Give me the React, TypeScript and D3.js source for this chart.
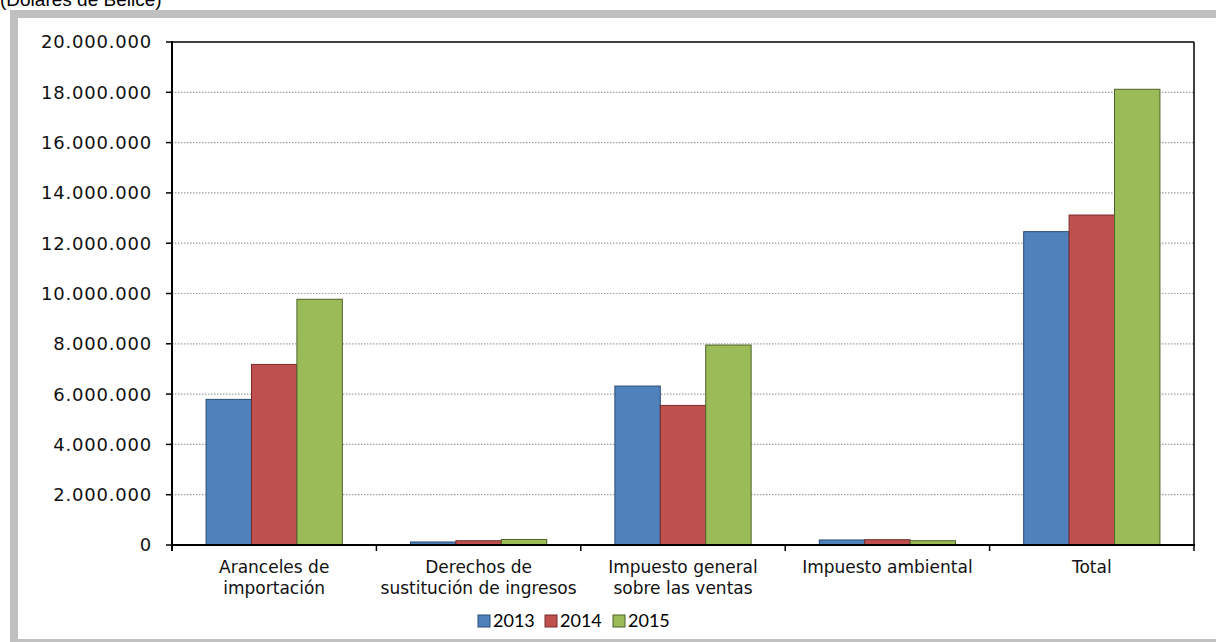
import React from "react";
import * as d3 from "d3";

const categories = [
  "Aranceles de importación",
  "Derechos de sustitución de ingresos",
  "Impuesto general sobre las ventas",
  "Impuesto ambiental",
  "Total",
];
const categoryLines = [
  ["Aranceles de", "importación"],
  ["Derechos de", "sustitución de ingresos"],
  ["Impuesto general", "sobre las ventas"],
  ["Impuesto ambiental"],
  ["Total"],
];
const years = ["2013", "2014", "2015"];
const values2013 = [5790000, 120000, 6320000, 200000, 12460000];
const values2014 = [7180000, 170000, 5550000, 210000, 13120000];
const values2015 = [9770000, 220000, 7950000, 170000, 18120000];
const yTicks = [0, 2000000, 4000000, 6000000, 8000000, 10000000, 12000000, 14000000, 16000000, 18000000, 20000000];
const title = "(Dólares de Belice)";

const fills = ["#4F81BD", "#C0504D", "#9BBB59"];
const strokes = ["#2C4D75", "#772C2A", "#4F6228"];

export default function App() {
  const W = 1216, H = 642;
  const left = 172, right = 1194, top = 42, bottom = 545;
  const series = [values2013, values2014, values2015];
  const x0 = d3.scaleBand().domain(categories).range([left, right]).padding(0);
  const x1 = d3.scaleBand().domain(years).range([0, x0.bandwidth()]).paddingInner(0).paddingOuter(0.75);
  const y = d3.scaleLinear().domain([0, 20000000]).range([bottom, top]);
  const fmt = (v: number) => d3.format(",")(v).replace(/,/g, ".");
  const font = "'DejaVu Sans', Verdana, sans-serif";
  const boundaries = categories.map((c) => x0(c)!).concat([right]);

  const legendX = [478, 545, 613];

  return (
    <svg width={W} height={H} style={{ position: "absolute", left: 0, top: 0 }}>
      <rect x={0} y={0} width={W} height={H} fill="#fff" />
      <text x={0} y={6} fontFamily="'Liberation Sans', Arial, sans-serif" fontSize={19} fill="#000">{title}</text>
      <rect x={10} y={10} width={W - 10} height={632} fill="#C0C0C0" />
      <rect x={18} y={18} width={W - 18} height={621} fill="#fff" />

      {yTicks.filter((t) => t > 0 && t < 20000000).map((t) => (
        <line key={"g" + t} x1={left} x2={right} y1={y(t)} y2={y(t)} stroke="#A0A0A0" strokeWidth={1.2} strokeDasharray="1.5 1.5" />
      ))}

      {categories.map((c, ci) => (
        <g key={c}>
          {years.map((yr, si) => {
            const v = series[si][ci];
            const bx = x0(c)! + x1(yr)!;
            return (
              <rect key={yr} x={bx} y={y(v)} width={x1.bandwidth()} height={bottom - y(v)}
                fill={fills[si]} stroke={strokes[si]} strokeWidth={1} />
            );
          })}
        </g>
      ))}

      <line x1={left} x2={right} y1={top} y2={top} stroke="#000" strokeWidth={1.5} />
      <line x1={right} x2={right} y1={top} y2={bottom} stroke="#000" strokeWidth={1.5} />
      <line x1={left} x2={left} y1={top - 1} y2={bottom + 6} stroke="#000" strokeWidth={2} />
      <line x1={left} x2={right + 1} y1={bottom} y2={bottom} stroke="#000" strokeWidth={2} />

      {yTicks.map((t) => (
        <g key={t}>
          <line x1={left - 6} x2={left} y1={y(t)} y2={y(t)} stroke="#000" strokeWidth={1.5} />
          <text x={152} y={y(t)} dy="0.36em" textAnchor="end" fontFamily={font} fontSize={18} fill="#111" letterSpacing={0.8}>
            {fmt(t)}
          </text>
        </g>
      ))}

      {boundaries.map((b, i) => (
        <line key={i} x1={b} x2={b} y1={bottom} y2={bottom + 6} stroke="#000" strokeWidth={1.5} />
      ))}

      {categories.map((c, ci) => (
        <text key={c} x={x0(c)! + x0.bandwidth() / 2} y={573} textAnchor="middle" fontFamily={font} fontSize={17} fill="#111">
          {categoryLines[ci].map((ln, li) => (
            <tspan key={li} x={x0(c)! + x0.bandwidth() / 2} dy={li === 0 ? 0 : 21}>{ln}</tspan>
          ))}
        </text>
      ))}

      {years.map((yr, i) => (
        <g key={yr}>
          <rect x={legendX[i]} y={615} width={12} height={12} fill={fills[i]} stroke={strokes[i]} strokeWidth={1} />
          <text x={legendX[i] + 15} y={621} dy="0.36em" fontFamily="Lato, 'Open Sans', sans-serif" fontSize={18} fill="#000">{yr}</text>
        </g>
      ))}
    </svg>
  );
}
